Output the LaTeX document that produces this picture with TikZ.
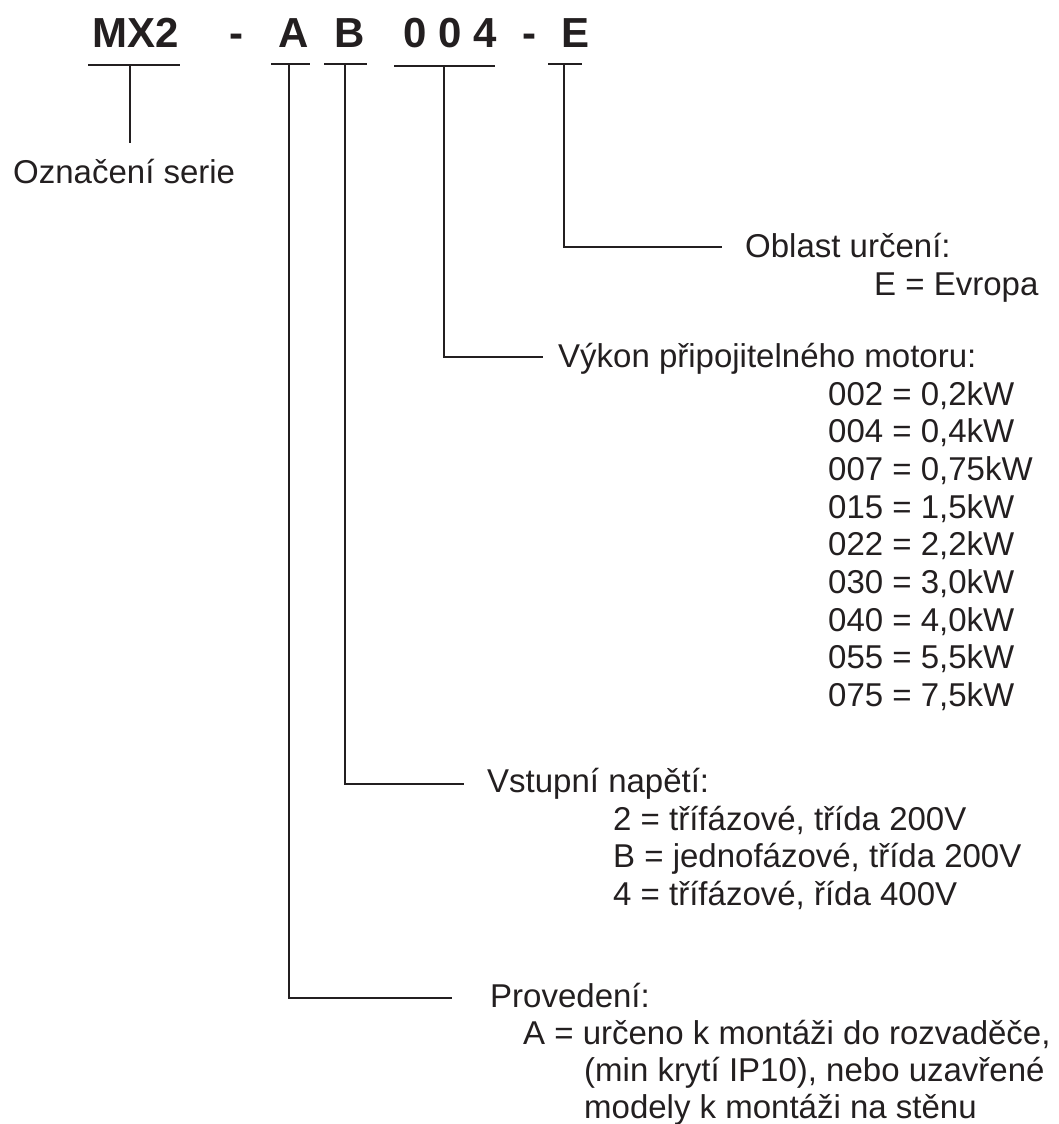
\documentclass[tikz,border=0pt]{standalone}
\usepackage{fontspec}
\setmainfont{Liberation Sans}
\usepackage{xcolor}
\usetikzlibrary{positioning}
\definecolor{ink}{HTML}{231F20}

\begin{document}
\begin{tikzpicture}[x=1pt,y=-1pt,
every node/.style={text=ink, inner sep=0pt},
code/.style={anchor=base, font=\bfseries\fontsize{42}{48}\selectfont},
lbl/.style={anchor=base west, align=left, font=\fontsize{33}{37.7}\selectfont},
line/.style={draw=ink, line width=2.8pt}]
\useasboundingbox (0,0) rectangle (1058,1124);
% type code
\node [code] (mx) at (136,48) {MX2};
\node [code] (d1) at (236,48) {-};
\node [code] (ca) at (294,48) {A};
\node [code] (cb) at (350,48) {B};
\node [code] (cp) at (450,48) {0 0 4};
\node [code] (d2) at (529,48) {-};
\node [code] (ce) at (575,48) {E};
% underlines
\coordinate (uMX) at (130,65);
\coordinate (uA) at (289,64);
\coordinate (uB) at (345,64);
\coordinate (uP) at (444,66);
\coordinate (uE) at (564,64);
\draw [line] (88,65) -- (180,65);
\draw [line] (271,64) -- (310,64);
\draw [line] (324,64) -- (367,64);
\draw [line] (394,66) -- (495,66);
\draw [line] (548,64) -- (582,64);
% labels (multi-line nodes sit on their last baseline)
\node [lbl] (serie) at (13,183) {Označení serie};
\node [lbl] (oblast) at (745,257) {Oblast určení:};
\node [lbl] (evropa) at (874,295) {E = Evropa};
\node [lbl] (vykon) at (558,367) {Výkon připojitelného motoru:};
\node [lbl] (kw) at (828,706.6) {002 = 0,2kW\\004 = 0,4kW\\007 = 0,75kW\\015 = 1,5kW\\022 = 2,2kW\\030 = 3,0kW\\040 = 4,0kW\\055 = 5,5kW\\075 = 7,5kW};
\node [lbl] (vstup) at (487,792) {Vstupní napětí:};
\node [lbl] (faze) at (613,905.4) {2 = třífázové, třída 200V\\B = jednofázové, třída 200V\\4 = třífázové, řída 400V};
\node [lbl] (proved) at (490,1007) {Provedení:};
\node [lbl] (provA) at (523,1044) {A = určeno k montáži do rozvaděče,};
\node [lbl] (provB) at (584,1118.7) {(min krytí IP10), nebo uzavřené\\modely k montáži na stěnu};
% connectors
\coordinate (eMX) at (130,143);
\coordinate (eE) at (722,247);
\coordinate (eP) at (543,357);
\coordinate (eB) at (464,784);
\coordinate (eA) at (452,998);
\draw [line] (uMX) -- (eMX);
\draw [line] (uE) |- (eE);
\draw [line] (uP) |- (eP);
\draw [line] (uB) |- (eB);
\draw [line] (uA) |- (eA);
\end{tikzpicture}
\end{document}
